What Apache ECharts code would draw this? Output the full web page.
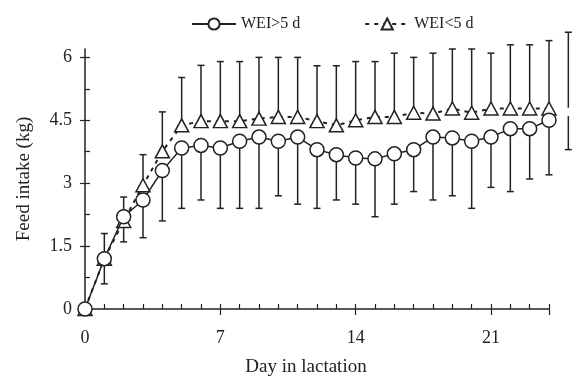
<!DOCTYPE html>
<html>
<head>
<meta charset="utf-8">
<script src="https://cdn.jsdelivr.net/npm/echarts@6/dist/echarts.min.js"></script>
<style>
	html, body { margin: 0; padding: 0; background: #fff; }
	#chart { width: 573px; height: 378px; }
</style>
</head>
<body>
<div id="chart"></div>
<script>
// 泌乳天数（第25天超出坐标轴，只画线和误差线）
const days = [0, 1, 2, 3, 4, 5, 6, 7, 8, 9, 10, 11, 12, 13, 14, 15, 16, 17, 18, 19, 20, 21, 22, 23, 24, 25];
// WEI>5 d 均值及误差线下端
const weiGt5 = [0, 1.2, 2.2, 2.6, 3.3, 3.84, 3.9, 3.84, 4.0, 4.1, 4.0, 4.1, 3.8, 3.68, 3.6, 3.58, 3.7, 3.8, 4.1, 4.08, 4.0, 4.1, 4.3, 4.3, 4.5, 4.6];
const weiGt5Low = [null, 0.6, 1.6, 1.7, 2.1, 2.4, 2.6, 2.4, 2.4, 2.4, 2.7, 2.5, 2.4, 2.6, 2.5, 2.2, 2.5, 2.8, 2.6, 2.7, 2.4, 2.9, 2.8, 3.1, 3.2, 3.8];
// WEI<5 d 均值及误差线上端
const weiLt5 = [0, 1.2, 2.1, 2.95, 3.76, 4.38, 4.48, 4.48, 4.48, 4.54, 4.58, 4.58, 4.48, 4.38, 4.5, 4.58, 4.58, 4.68, 4.66, 4.78, 4.68, 4.78, 4.78, 4.78, 4.78, 4.8];
const weiLt5High = [null, 1.8, 2.67, 3.68, 4.7, 5.52, 5.81, 5.9, 5.9, 6.0, 6.0, 6.0, 5.8, 5.8, 5.9, 5.9, 6.1, 6.0, 6.1, 6.2, 6.2, 6.1, 6.3, 6.3, 6.4, 6.6];
// 坐标轴刻度
const xLabelDays = [0, 7, 14, 21];
const yLabels = [0, 1.5, 3, 4.5, 6];
const yMinorTicks = [0, 0.75, 1.5, 2.25, 3, 3.75, 4.5, 5.25, 6];

const lastAxisDay = 24;
const ink = '#222';
const font = '"Liberation Serif", "DejaVu Serif", serif';

function pointData(values) {
	return days.map(function(d, i) {
		const item = { value: [d, values[i]] };
		if (d > lastAxisDay) item.symbol = 'none';
		return item;
	});
}

function barData(means, ends) {
	const out = [];
	for (let i = 0; i < days.length; i++) {
		if (ends[i] === null) continue;
		out.push([days[i], means[i], ends[i]]);
	}
	return out;
}

// 误差线：从均值画到端点，端点加横帽
function renderErrorBar(params, api) {
	const from = api.coord([api.value(0), api.value(1)]);
	const to = api.coord([api.value(0), api.value(2)]);
	const style = { stroke: ink, lineWidth: 1.5 };
	return {
		type: 'group',
		children: [
			{ type: 'line', shape: { x1: from[0], y1: from[1], x2: to[0], y2: to[1] }, style: style },
			{ type: 'line', shape: { x1: to[0] - 3.5, y1: to[1], x2: to[0] + 3.5, y2: to[1] }, style: style }
		]
	};
}

const chart = echarts.init(document.getElementById('chart'));
const option = {
	animation: false,
	backgroundColor: '#fff',
	textStyle: { fontFamily: font, color: ink },
	legend: {
		left: 186,
		top: 11,
		itemWidth: 44,
		itemHeight: 14,
		itemGap: 64,
		textStyle: { fontFamily: font, fontSize: 16, color: ink },
		data: ['WEI>5 d', 'WEI<5 d']
	},
	grid: { left: 85, right: 24, top: 49, bottom: 69, outerBoundsMode: 'none' },
	xAxis: [{
		type: 'value',
		min: 0,
		max: lastAxisDay,
		interval: 1,
		position: 'bottom',
		axisLine: { lineStyle: { color: ink, width: 1.5 } },
		axisTick: { inside: true, length: 5, lineStyle: { color: ink, width: 1.2 } },
		axisLabel: {
			margin: 20,
			fontSize: 18,
			fontFamily: font,
			color: ink,
			formatter: function(v) { return xLabelDays.indexOf(v) >= 0 ? String(v) : ''; }
		},
		splitLine: { show: false },
		name: 'Day in lactation',
		nameLocation: 'middle',
		nameGap: 49,
		nameTextStyle: { fontSize: 19, fontFamily: font, color: ink, padding: [0, 22, 0, 0] }
	}, {
		type: 'value',
		min: 0,
		max: lastAxisDay,
		interval: 7,
		position: 'bottom',
		axisLine: { show: false },
		axisTick: { inside: false, length: 6, lineStyle: { color: ink, width: 1.2 } },
		axisLabel: { show: false },
		splitLine: { show: false }
	}],
	yAxis: [{
		type: 'value',
		min: 0,
		max: 6.2,
		position: 'left',
		axisLine: { show: true, lineStyle: { color: ink, width: 1.5 } },
		axisTick: { show: true, inside: true, length: 5, customValues: yMinorTicks, lineStyle: { color: ink, width: 1.2 } },
		axisLabel: { margin: 13, fontSize: 18, fontFamily: font, color: ink, customValues: yLabels },
		splitLine: { show: false },
		name: 'Feed intake (kg)',
		nameLocation: 'middle',
		nameGap: 51,
		nameTextStyle: { fontSize: 19, fontFamily: font, color: ink }
	}, {
		type: 'value',
		min: 0,
		max: 6.2,
		position: 'left',
		offset: 0,
		axisLine: { show: false },
		axisTick: { show: true, inside: false, length: 5, customValues: yLabels, lineStyle: { color: ink, width: 1.2 } },
		axisLabel: { show: false },
		splitLine: { show: false }
	}],
	series: [{
		type: 'custom',
		name: 'gtBars',
		renderItem: renderErrorBar,
		encode: { x: 0, y: [1, 2] },
		data: barData(weiGt5, weiGt5Low),
		clip: false,
		z: 1
	}, {
		type: 'custom',
		name: 'ltBars',
		renderItem: renderErrorBar,
		encode: { x: 0, y: [1, 2] },
		data: barData(weiLt5, weiLt5High),
		clip: false,
		z: 1
	}, {
		type: 'line',
		name: 'WEI<5 d',
		data: pointData(weiLt5),
		symbol: 'triangle',
		symbolSize: [14, 13],
		showAllSymbol: true,
		clip: false,
		lineStyle: { color: ink, width: 2, type: [4, 5] },
		itemStyle: { color: '#fff', borderColor: ink, borderWidth: 1.5 },
		z: 2
	}, {
		type: 'line',
		name: 'WEI>5 d',
		data: pointData(weiGt5),
		symbol: 'circle',
		symbolSize: 14,
		showAllSymbol: true,
		clip: false,
		lineStyle: { color: ink, width: 1.5 },
		itemStyle: { color: '#fff', borderColor: ink, borderWidth: 1.5 },
		z: 3
	}]
};
chart.setOption(option);
</script>
</body>
</html>
